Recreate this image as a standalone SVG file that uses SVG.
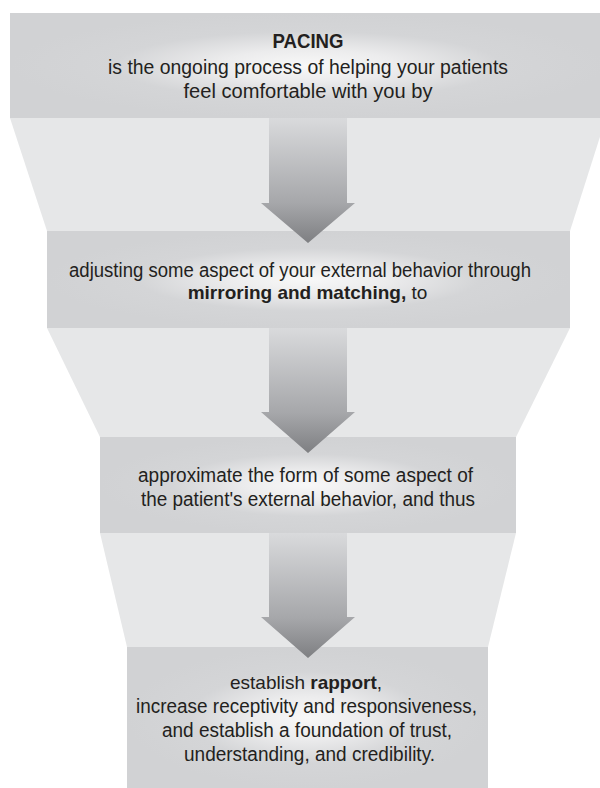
<svg xmlns="http://www.w3.org/2000/svg" width="600" height="788" viewBox="0 0 600 788">
<style>
  .funnel { fill: #e6e7e8; }
  .box { fill: url(#boxGrad); }
  .arrow { fill: url(#arrowGrad); }
  text { font-family: "Liberation Sans", Arial, sans-serif; font-size: 19.5px; fill: #231f20; text-anchor: middle; }
  .b { font-weight: bold; }
</style>
<defs>
  <radialGradient id="boxGrad" cx="0.5" cy="0.5" r="0.5" fx="0.5" fy="0.5">
    <stop offset="0" stop-color="#f8f8f8"/>
    <stop offset="0.3" stop-color="#ececed"/>
    <stop offset="0.65" stop-color="#d4d5d7"/>
    <stop offset="1" stop-color="#d1d2d4"/>
  </radialGradient>
  <linearGradient id="arrowGrad" x1="0" y1="0" x2="0" y2="1">
    <stop offset="0" stop-color="#d9dadc"/>
    <stop offset="0.68" stop-color="#a6a7aa"/>
    <stop offset="1" stop-color="#7e7f82"/>
  </linearGradient>
</defs>
<rect width="600" height="788" fill="#ffffff"/>
<g id="funnel">
  <polygon class="funnel" points="10,118 606,118 570,231 47,231"/>
  <polygon class="funnel" points="47,328 570,328 516,437 100,437"/>
  <polygon class="funnel" points="100,533 516,533 488,647 127,647"/>
</g>
<g id="node-pacing">
  <rect class="box" x="10" y="13" width="596" height="105"/>
  <text x="308" y="48" class="b" textLength="71" lengthAdjust="spacingAndGlyphs">PACING</text>
  <text x="308" y="74" textLength="400" lengthAdjust="spacingAndGlyphs">is the ongoing process of helping your patients</text>
  <text x="308" y="98" textLength="249" lengthAdjust="spacingAndGlyphs">feel comfortable with you by</text>
</g>
<g id="node-adjusting">
  <rect class="box" x="47" y="231" width="523" height="97"/>
  <text x="300" y="277" textLength="462" lengthAdjust="spacingAndGlyphs">adjusting some aspect of your external behavior through</text>
  <text x="307.5" y="298.5" style="font-size:19px"><tspan class="b">mirroring and matching,</tspan> to</text>
</g>
<g id="node-approximate">
  <rect class="box" x="100" y="437" width="416" height="96"/>
  <text x="305.5" y="482" textLength="335" lengthAdjust="spacingAndGlyphs">approximate the form of some aspect of</text>
  <text x="308" y="506" textLength="334" lengthAdjust="spacingAndGlyphs">the patient's external behavior, and thus</text>
</g>
<g id="node-rapport">
  <rect class="box" x="127" y="647" width="361" height="141"/>
  <text x="306" y="689" style="font-size:19px">establish <tspan class="b">rapport</tspan>,</text>
  <text x="306.5" y="713" textLength="341" lengthAdjust="spacingAndGlyphs">increase receptivity and responsiveness,</text>
  <text x="307" y="737" textLength="290" lengthAdjust="spacingAndGlyphs">and establish a foundation of trust,</text>
  <text x="309.5" y="761" textLength="251" lengthAdjust="spacingAndGlyphs">understanding, and credibility.</text>
</g>
<g id="connectors">
  <polygon class="arrow" points="269,118 347,118 347,203 355,203 308,243 261,203 269,203"/>
  <polygon class="arrow" points="269,328 347,328 347,412 355,412 308,453 261,412 269,412"/>
  <polygon class="arrow" points="269,533 347,533 347,617 355,617 308,658 261,617 269,617"/>
</g>
</svg>
